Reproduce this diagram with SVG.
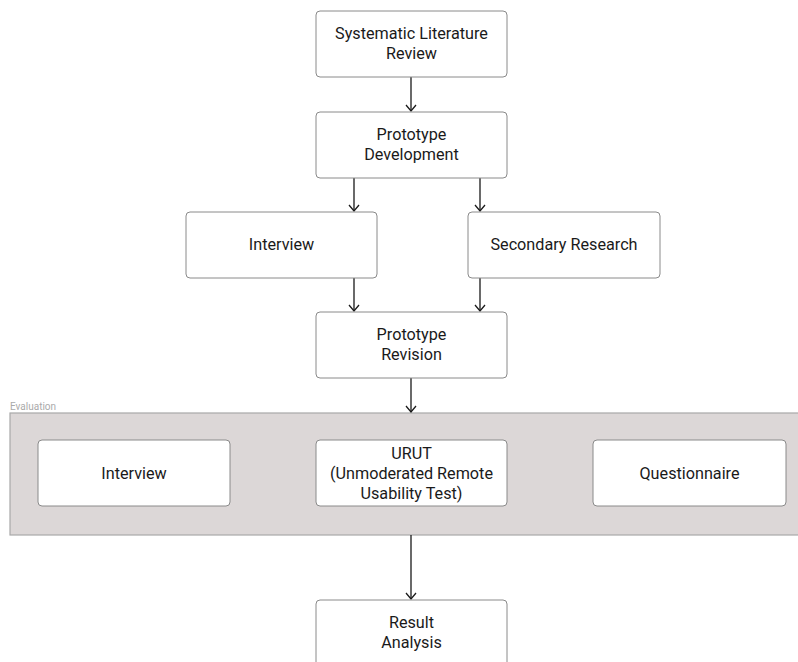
<svg xmlns="http://www.w3.org/2000/svg" width="798" height="662" viewBox="0 0 798 662">
<style>
.n{fill:#fff;stroke:#8a8a8a;stroke-width:1}
.t{font-family:Roboto,"Liberation Sans",sans-serif;font-size:16.2px;fill:#1a1a1a;text-anchor:middle}
.e{stroke:#1a1a1a;stroke-width:1.3;fill:none}
.g{fill:#dcd7d7;stroke:#a8a8a8;stroke-width:1.2}
.gl{font-family:Roboto,"Liberation Sans",sans-serif;font-size:10px;fill:#aaa}
</style>
<defs>
<marker id="a" markerWidth="10" markerHeight="12" refX="7" refY="6" orient="auto" markerUnits="userSpaceOnUse" viewBox="0 0 10 12">
<path d="M1,1 L7,6 L1,11" fill="none" stroke="#1a1a1a" stroke-width="1.3"/>
</marker>
</defs>
<g id="evaluation">
<rect class="g" x="10" y="413" width="800" height="122"/>
<text class="gl" x="10" y="410">Evaluation</text>
</g>
<g id="connectors">
<line class="e" x1="411" y1="77" x2="411" y2="111" marker-end="url(#a)"/>
<line class="e" x1="354" y1="178" x2="354" y2="211" marker-end="url(#a)"/>
<line class="e" x1="480" y1="178" x2="480" y2="211" marker-end="url(#a)"/>
<line class="e" x1="354" y1="278" x2="354" y2="311" marker-end="url(#a)"/>
<line class="e" x1="480" y1="278" x2="480" y2="311" marker-end="url(#a)"/>
<line class="e" x1="411" y1="378" x2="411" y2="412" marker-end="url(#a)"/>
<line class="e" x1="411" y1="535" x2="411" y2="599" marker-end="url(#a)"/>
</g>
<g id="slr">
<rect class="n" x="316" y="11" width="191" height="66" rx="4"/>
<text class="t" x="411.5" y="39">Systematic Literature</text>
<text class="t" x="411.5" y="59">Review</text>
</g>
<g id="protodev">
<rect class="n" x="316" y="112" width="191" height="66" rx="4"/>
<text class="t" x="411.5" y="140">Prototype</text>
<text class="t" x="411.5" y="160">Development</text>
</g>
<g id="interview1">
<rect class="n" x="186" y="212" width="191" height="66" rx="4"/>
<text class="t" x="281.5" y="250">Interview</text>
</g>
<g id="secondary">
<rect class="n" x="468" y="212" width="192" height="66" rx="4"/>
<text class="t" x="564" y="250">Secondary Research</text>
</g>
<g id="protorev">
<rect class="n" x="316" y="312" width="191" height="66" rx="4"/>
<text class="t" x="411.5" y="340">Prototype</text>
<text class="t" x="411.5" y="360">Revision</text>
</g>
<g id="interview2">
<rect class="n" x="38" y="440" width="192" height="66" rx="4"/>
<text class="t" x="134" y="479">Interview</text>
</g>
<g id="urut">
<rect class="n" x="316" y="440" width="191" height="66" rx="4"/>
<text class="t" x="411.5" y="459">URUT</text>
<text class="t" x="411.5" y="479">(Unmoderated Remote</text>
<text class="t" x="411.5" y="499">Usability Test)</text>
</g>
<g id="questionnaire">
<rect class="n" x="593" y="440" width="193" height="66" rx="4"/>
<text class="t" x="689.5" y="479">Questionnaire</text>
</g>
<g id="result">
<rect class="n" x="316" y="600" width="191" height="66" rx="4"/>
<text class="t" x="411.5" y="628">Result</text>
<text class="t" x="411.5" y="648">Analysis</text>
</g>
</svg>
